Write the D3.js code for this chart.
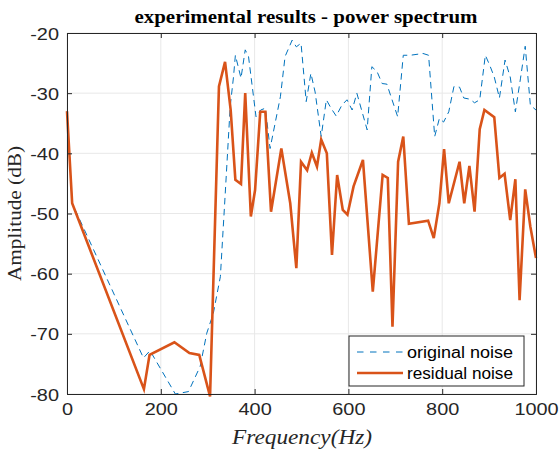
<!DOCTYPE html>
<html>
<head>
<meta charset="utf-8">
<title>power spectrum</title>
<style>
  body { margin: 0; background: #fff; }
  svg { display: block; }
</style>
</head>
<body>
<svg id="chart" width="560" height="450"></svg>
<script src="https://cdn.jsdelivr.net/npm/d3@7"></script>
<script>
// frequency (Hz) and amplitude (dB)
const origFreq = [0, 11, 163, 177, 231, 259, 284, 298, 312, 327, 337, 348, 355, 359, 366, 371, 380, 387,
  403, 413, 423, 433, 455, 465, 480, 489, 499, 510, 520, 529, 542, 553, 563, 574, 586, 597, 608, 618,
  640, 650, 661, 672, 682, 705, 717, 732, 759, 771, 784, 794, 803, 814, 825, 837, 846, 859, 869, 880,
  892, 901, 911, 922, 934, 945, 956, 967, 977, 988, 1000];
const origAmp = [-33, -48.3, -74.0, -72.8, -80, -79.6, -75.4, -69.9, -66.6, -60.5, -47.2, -32.2, -27.3, -23.7, -25.9, -27.5, -22.8, -23.9,
  -33.9, -32.8, -32.5, -39.2, -30.6, -23.9, -21.2, -22.3, -21.7, -31.4, -26.7, -29.8, -37.2, -31.1, -32.5, -33.8, -32.0, -31.1, -32.8, -30.0,
  -36.1, -25.6, -26.4, -28.4, -28.5, -33.9, -23.7, -23.7, -23.4, -23.7, -37.2, -34.2, -34.8, -33.1, -28.9, -29.0, -30.8, -31.0, -31.6, -31.1,
  -23.7, -25.3, -27.3, -30.8, -24.5, -27.3, -33.1, -27.5, -22.2, -32.0, -32.8];

const resFreq = [0, 11, 164, 176, 229, 261, 282, 305, 324, 337, 349, 359, 371, 380, 392, 401, 412, 423,
  435, 457, 476, 489, 499, 512, 522, 533, 542, 554, 565, 576, 588, 598, 611, 631, 652, 673, 684, 694,
  706, 717, 729, 770, 782, 794, 804, 814, 837, 847, 858, 869, 880, 890, 911, 922, 933, 945, 956, 965,
  977, 988, 1000];
const resAmp = [-33, -48.3, -79.2, -73.5, -71.4, -73.2, -73.5, -80.4, -28.9, -24.8, -32.8, -44.4, -45.1, -30.0, -50.5, -46.1, -33.1, -33.1,
  -49.7, -39.2, -48.3, -59.1, -41.4, -42.8, -39.9, -42.2, -37.7, -40.0, -56.9, -43.6, -49.4, -50.2, -45.5, -41.1, -63.0, -43.6, -44.1, -68.8,
  -41.4, -37.2, -51.7, -51.2, -54.1, -48.3, -39.3, -48.3, -41.4, -48.3, -42.1, -49.7, -36.0, -32.8, -34.0, -44.1, -43.4, -51.1, -44.3, -64.4,
  -46.0, -52.2, -57.4];

const xTicks = [0, 200, 400, 600, 800, 1000];
const yTicks = [-80, -70, -60, -50, -40, -30, -20];
const seriesNames = ["original noise", "residual noise"];

const margin = { left: 67, right: 24, top: 33, bottom: 56 };
const W = 560, H = 450;
const pw = W - margin.left - margin.right, ph = H - margin.top - margin.bottom;
const axisColor = "#262626";
const sans = "Liberation Sans, Arial, sans-serif";
const serif = "Liberation Serif, Times New Roman, serif";

// the picture is a bit wider than tall in its lettering, widen text to fit
function stretch(sel, k) {
  sel.each(function () {
    const len = this.getComputedTextLength();
    d3.select(this).attr("textLength", len * k).attr("lengthAdjust", "spacingAndGlyphs");
  });
}

const svg = d3.select("#chart");
const g = svg.append("g").attr("transform", `translate(${margin.left},${margin.top})`);

const x = d3.scaleLinear().domain([0, 1000]).range([0, pw]);
const y = d3.scaleLinear().domain([-80, -20]).range([ph, 0]);

// grid
g.append("g").selectAll("line").data(xTicks).join("line")
  .attr("x1", d => x(d)).attr("x2", d => x(d)).attr("y1", 0).attr("y2", ph)
  .attr("stroke", "#e8e8e8").attr("stroke-width", 1);
g.append("g").selectAll("line").data(yTicks).join("line")
  .attr("y1", d => y(d)).attr("y2", d => y(d)).attr("x1", 0).attr("x2", pw)
  .attr("stroke", "#e8e8e8").attr("stroke-width", 1);

// lines
svg.append("defs").append("clipPath").attr("id", "plotclip")
  .append("rect").attr("x", -2).attr("y", -2).attr("width", pw + 4).attr("height", ph + 8);

const line = d3.line().x(d => x(d[0])).y(d => y(d[1]));
g.append("path")
  .datum(d3.zip(origFreq, origAmp))
  .attr("d", line)
  .attr("fill", "none").attr("stroke", "#0072BD").attr("stroke-width", 1)
  .attr("stroke-dasharray", "6.5,4.5")
  .attr("clip-path", "url(#plotclip)");
g.append("path")
  .datum(d3.zip(resFreq, resAmp))
  .attr("d", line)
  .attr("fill", "none").attr("stroke", "#D95319").attr("stroke-width", 2.6);

// axes
const fmt = d => String(d);   // plain hyphen minus, no thousands comma
const xAxis = g.append("g").attr("transform", `translate(0,${ph})`)
  .call(d3.axisBottom(x).tickValues(xTicks).tickSize(-5).tickPadding(9).tickFormat(fmt));
const yAxis = g.append("g")
  .call(d3.axisLeft(y).tickValues(yTicks).tickSize(-5).tickPadding(8).tickFormat(fmt));
const xTop = g.append("g")
  .call(d3.axisTop(x).tickValues(xTicks).tickSize(-5).tickFormat(""));
const yRight = g.append("g").attr("transform", `translate(${pw},0)`)
  .call(d3.axisRight(y).tickValues(yTicks).tickSize(-5).tickFormat(""));
[xAxis, yAxis, xTop, yRight].forEach(a => {
  a.select(".domain").attr("stroke", axisColor);
  a.selectAll(".tick line").attr("stroke", axisColor);
  a.selectAll(".tick text").attr("fill", axisColor)
    .style("font-family", sans).style("font-size", "17px");
});
yAxis.selectAll(".tick text").attr("dy", "0.36em");
stretch(xAxis.selectAll(".tick text"), 1.17);
stretch(yAxis.selectAll(".tick text"), 1.17);

// title and labels
svg.append("text")
  .attr("x", 306).attr("y", 23)
  .attr("text-anchor", "middle")
  .style("font-family", serif)
  .style("font-weight", "bold").style("font-size", "19px")
  .attr("textLength", 343).attr("lengthAdjust", "spacingAndGlyphs")
  .text("experimental results - power spectrum");

svg.append("text")
  .attr("transform", `translate(21,${margin.top + ph / 2}) rotate(-90)`)
  .attr("text-anchor", "middle")
  .style("font-family", serif)
  .style("font-size", "19px").attr("fill", axisColor)
  .attr("textLength", 135).attr("lengthAdjust", "spacingAndGlyphs")
  .text("Amplitude (dB)");

svg.append("text")
  .attr("x", 302).attr("y", 444)
  .attr("text-anchor", "middle")
  .style("font-family", serif)
  .style("font-style", "italic").style("font-size", "20px").attr("fill", axisColor)
  .attr("textLength", 140).attr("lengthAdjust", "spacingAndGlyphs")
  .text("Frequency(Hz)");

// legend
const lg = g.append("g").attr("transform", `translate(${349 - margin.left},${336 - margin.top})`);
lg.append("rect").attr("width", 175).attr("height", 50)
  .attr("fill", "#fff").attr("stroke", axisColor).attr("stroke-width", 1);
const legendStyles = [
  { color: "#0072BD", width: 1, dash: "6.5,6.5" },
  { color: "#D95319", width: 2.6, dash: null }
];
seriesNames.forEach((name, i) => {
  const yy = 16 + i * 21;
  lg.append("line").attr("x1", 8).attr("x2", 54).attr("y1", yy).attr("y2", yy)
    .attr("stroke", legendStyles[i].color).attr("stroke-width", legendStyles[i].width)
    .attr("stroke-dasharray", legendStyles[i].dash);
  lg.append("text").attr("x", 58).attr("y", yy).attr("dy", "0.35em")
    .style("font-family", sans).style("font-size", "16px").attr("fill", "#000")
    .attr("textLength", i === 0 ? 106 : 106).attr("lengthAdjust", "spacingAndGlyphs")
    .text(name);
});
</script>
</body>
</html>
